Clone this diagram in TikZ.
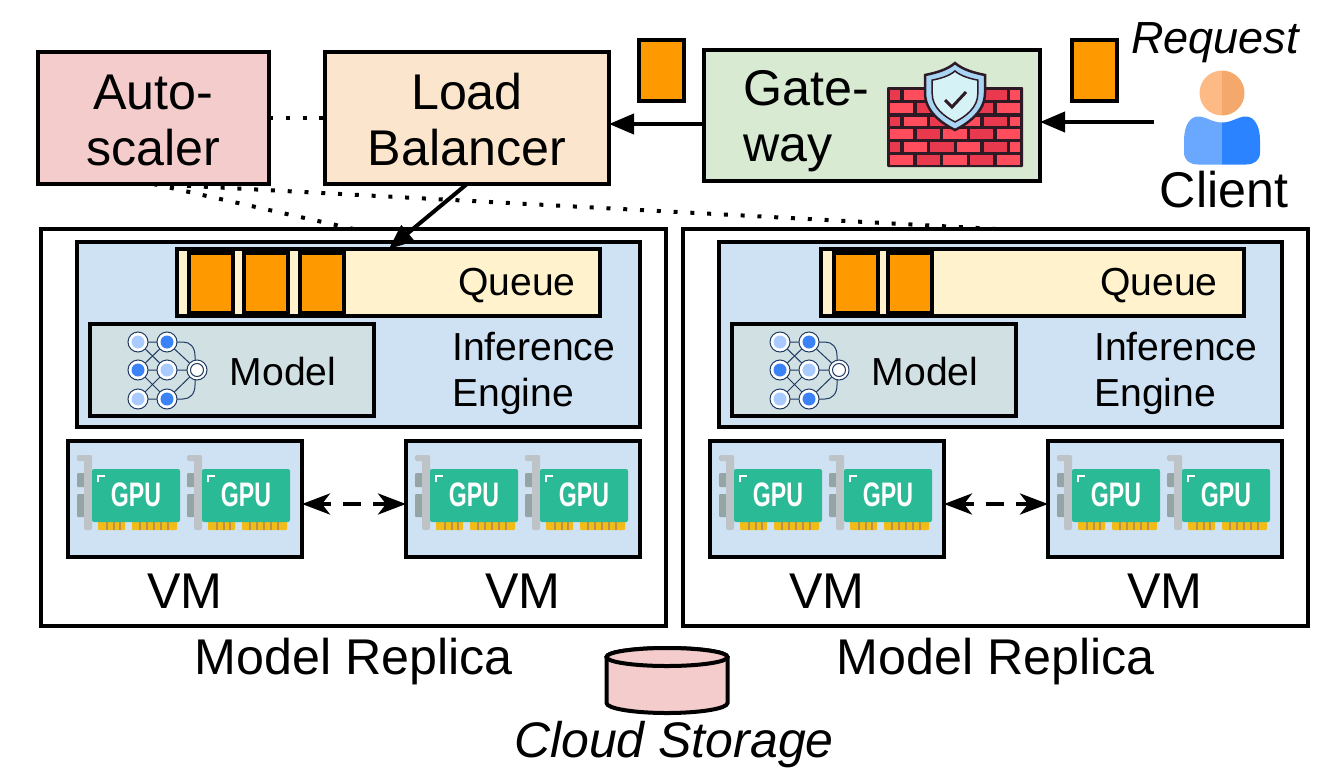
\documentclass[tikz,border=0pt]{standalone}
\usepackage{fontspec}
\setmainfont{Liberation Sans}
\usetikzlibrary{shapes.geometric, arrows.meta, positioning, calc}
\definecolor{scalerpink}{HTML}{F4CCCC}
\definecolor{balancerpeach}{HTML}{FCE5CD}
\definecolor{gatewaygreen}{HTML}{D9EAD3}
\definecolor{enginesky}{HTML}{CFE2F3}
\definecolor{queuecream}{HTML}{FFF2CC}
\definecolor{modelgray}{HTML}{D0E0E3}
\definecolor{requestorange}{HTML}{FF9900}
\definecolor{cardgreen}{HTML}{2ABB96}
\definecolor{contactgold}{HTML}{F2BC18}
\definecolor{contactdark}{HTML}{B8924A}
\definecolor{bracketgray}{HTML}{BDC3C7}
\definecolor{tabgray}{HTML}{95A5A6}
\definecolor{netnavy}{HTML}{1F3A63}
\definecolor{netlight}{HTML}{A9CBFF}
\definecolor{netblue}{HTML}{3B82F6}
\definecolor{brickdark}{HTML}{2E1A24}
\definecolor{bricklight}{HTML}{FF4D5E}
\definecolor{brickred}{HTML}{E8394F}
\definecolor{shieldrim}{HTML}{A9D5F5}
\definecolor{shieldpale}{HTML}{D5F3F7}
\definecolor{headlight}{HTML}{FDBA84}
\definecolor{headdark}{HTML}{F4A86C}
\definecolor{bodylight}{HTML}{6AA8FF}
\definecolor{bodydark}{HTML}{2B83FF}
\newcommand{\shieldoutline}{(0,0) .. controls (8,7) and (20,10) .. (30,12) -- (30,30) .. controls (30,48) and (14,60) .. (0,67) .. controls (-14,60) and (-30,48) .. (-30,30) -- (-30,12) .. controls (-20,10) and (-8,7) .. (0,0) -- cycle}
\newcommand{\bodyoutline}{(0,6) .. controls (-10,6) and (-16,0) .. (-24,0) .. controls (-32,0) and (-38,9) .. (-38,24) -- (-38,36) .. controls (-38,44) and (-32,48) .. (-24,48) -- (0,48) -- cycle}

\begin{document}
\begin{tikzpicture}[
    x=1pt, y=-1pt,
    box/.style={rectangle, draw=black, line width=4pt, inner sep=0pt, outer sep=0pt},
    bigtext/.style={inner sep=0pt, font=\fontsize{50.2}{56}\selectfont},
    midtext/.style={inner sep=0pt, font=\fontsize{39.1}{46}\selectfont},
    requestbox/.style={box, fill=requestorange, minimum width=45pt, minimum height=61pt},
    queueitem/.style={box, fill=requestorange, minimum width=44pt, minimum height=60pt},
    enginebox/.style={box, fill=enginesky, minimum width=563pt, minimum height=185pt},
    queuebox/.style={box, fill=queuecream, minimum width=423pt, minimum height=67pt},
    modelbox/.style={box, fill=modelgray, minimum width=284pt, minimum height=92pt},
    vmbox/.style={box, fill=enginesky, minimum width=234pt, minimum height=116pt},
    replicabox/.style={box, minimum width=625pt, minimum height=397pt},
    arrow/.style={-{Triangle[length=25pt,width=20pt]}, line width=4pt},
    dotline/.style={line width=4pt, dash pattern=on 4pt off 12.8pt},
    syncline/.style={{Stealth[length=28pt,width=21pt,inset=8pt]}-{Stealth[length=28pt,width=21pt,inset=8pt]}, line width=4pt, dash pattern=on 18pt off 12pt, dash phase=7pt},
    neuron/.style={circle, draw=netnavy, fill=white, line width=1pt, minimum size=20pt, inner sep=0pt},
    gpucard/.pic={
        \fill[tabgray, rounded corners=1pt] (0,32) rectangle (8,46);
        \fill[tabgray, rounded corners=1pt] (0,53) rectangle (8,76);
        \fill[bracketgray, rounded corners=2pt] (0,14) rectangle (15,20);
        \fill[bracketgray, rounded corners=2pt] (7,14) rectangle (15,89);
        \fill[contactgold, rounded corners=1pt] (21,78) rectangle (48,89);
        \fill[contactgold, rounded corners=1pt] (55,78) rectangle (100,89);
        \foreach \cx in {29,36,42,62,69,76,83,90}
            \fill[contactdark] (\cx,81) rectangle (\cx+2,89);
        \fill[cardgreen, rounded corners=2pt] (15,28) rectangle (103,81);
        \draw[white, line width=2.2pt] (21,41) -- (21,35) -- (28,35);
        \node[inner sep=0pt, text=white, font=\fontsize{34}{34}\selectfont\bfseries, transform shape, xscale=0.68] (-name) at (59,54) {GPU};
    },
    netfigure/.pic={
        \draw[netnavy, line width=1pt] (0,0) -- (29,28) (0,28) -- (29,0) (0,28) -- (29,57) (0,57) -- (29,28) (0,0) -- (29,0) (0,28) -- (29,28) (0,57) -- (29,57) (29,0) -- (59,28) (29,28) -- (59,28) (29,57) -- (59,28);
        \draw[netnavy, line width=1pt] (29,0) -- (45,0) .. controls (52,0) and (57,5) .. (57,14) -- (57,43) .. controls (57,52) and (52,57) .. (45,57) -- (29,57);
        \node[neuron] (-a) at (0,0) {};
        \node[neuron] (-b) at (0,28) {};
        \node[neuron] (-c) at (0,57) {};
        \node[neuron] (-d) at (29,0) {};
        \node[neuron] (-e) at (29,28) {};
        \node[neuron] (-f) at (29,57) {};
        \node[neuron] (-g) at (59,28) {};
        \fill[netlight] (0,0) circle (6.5) (0,57) circle (6.5) (29,28) circle (6.5);
        \fill[netblue] (0,28) circle (6.5) (29,0) circle (6.5) (29,57) circle (6.5);
        \draw[netnavy, line width=1pt] (59,28) circle (6.5);
    },
    brickwall/.pic={
        \fill[brickdark, rounded corners=1pt] (0,0) rectangle (136,80);
        \foreach \rowy in {3,29.5,55} {
            \fill[brickred] (3,\rowy) rectangle (13,\rowy+9.5);
            \fill[bricklight] (17,\rowy) rectangle (40,\rowy+9.5);
            \fill[brickred] (43,\rowy) rectangle (67,\rowy+9.5);
            \fill[bricklight] (70,\rowy) rectangle (93,\rowy+9.5);
            \fill[brickred] (97,\rowy) rectangle (120,\rowy+9.5);
            \fill[bricklight] (123,\rowy) rectangle (133,\rowy+9.5);
        }
        \foreach \rowy in {16,42,68} {
            \fill[bricklight] (3,\rowy) rectangle (26,\rowy+9.5);
            \fill[brickred] (30,\rowy) rectangle (53,\rowy+9.5);
            \fill[bricklight] (56,\rowy) rectangle (80,\rowy+9.5);
            \fill[brickred] (83,\rowy) rectangle (106,\rowy+9.5);
            \fill[bricklight] (110,\rowy) rectangle (133,\rowy+9.5);
        }
    },
    shieldicon/.pic={
        \draw[brickdark, line width=2.5pt, fill=shieldrim] \shieldoutline;
        \begin{scope}[shift={(0,8)}, scale=0.76]
            \draw[brickdark, line width=1.5pt, fill=shieldpale] \shieldoutline;
        \end{scope}
        \draw[brickdark, line width=3pt] (-10,37) -- (-3,44) -- (11,29);
    },
    clienticon/.pic={
        \fill[headlight] (0,45) arc[start angle=90, end angle=270, radius=22.5];
        \fill[headdark] (0,0) arc[start angle=270, end angle=450, radius=22.5];
        \begin{scope}[shift={(0,46)}]
            \fill[bodylight] \bodyoutline;
            \begin{scope}[xscale=-1]
                \fill[bodydark] \bodyoutline;
            \end{scope}
        \end{scope}
    },
    storageicon/.pic={
        \draw[line width=4pt, fill=scalerpink] (-60.5,0) -- (-60.5,46) arc[x radius=60.5, y radius=10, start angle=180, end angle=0] -- (60.5,0) arc[x radius=60.5, y radius=9, start angle=0, end angle=-180] -- cycle;
        \draw[line width=4pt, fill=scalerpink] (0,0) ellipse [x radius=60.5, y radius=9];
    }
]
\useasboundingbox (0,0) rectangle (1329,779);

% Top row
\node[box, fill=scalerpink, minimum width=231pt, minimum height=132pt] (autoscaler) at (153.5,118) {};
\node[bigtext, align=center] (autoscalertext) at (153.5,120) {Auto-\\scaler};
\node[box, fill=balancerpeach, minimum width=284pt, minimum height=132pt] (balancer) at (467,118) {};
\node[bigtext, align=center] (balancertext) at (467,120) {Load\\Balancer};
\node[box, fill=gatewaygreen, minimum width=336pt, minimum height=131pt] (gateway) at (872,115.5) {};
\node[bigtext, align=left, anchor=west] (gatewaytext) at (743,121) {Gate-\\way};
\pic (wall) at (887,87) {brickwall};
\pic (shield) at (955,63) {shieldicon};

% Requests and client
\node[requestbox] (request1) at (661.5,70.5) {};
\node[requestbox] (request2) at (1094.5,70.5) {};
\node[inner sep=0pt, font=\fontsize{45}{50}\selectfont\itshape] (requesttext) at (1215,43) {Request};
\pic (client) at (1222,70.5) {clienticon};
\coordinate (clientport) at (1154,122);
\node[bigtext] (clienttext) at (1224,190) {Client};

% Left replica
\node[replicabox] (replicaL) at (353.5,427.5) {};
\node[enginebox] (engineL) at (358.5,334.5) {};
\node[queuebox] (queueL) at (388.75,282.5) {};
\node[queueitem] (itemL1) at (211,282.5) {};
\node[queueitem] (itemL2) at (265.5,282.5) {};
\node[queueitem] (itemL3) at (322,282.5) {};
\node[midtext] (queuetextL) at (517,286) {Queue};
\node[modelbox] (modelL) at (232,370) {};
\pic (netL) at (138,342) {netfigure};
\node[midtext] (modeltextL) at (283,372) {Model};
\node[midtext, align=left, anchor=west] (enginetextL) at (452,373) {Inference\\Engine};
\node[vmbox] (vmL1) at (185,499) {};
\node[vmbox] (vmL2) at (523,499) {};
\pic (gpuL1) at (77,441) {gpucard};
\pic (gpuL2) at (187,441) {gpucard};
\pic (gpuL3) at (415,441) {gpucard};
\pic (gpuL4) at (525,441) {gpucard};
\node[bigtext] (vmtextL1) at (185,591) {VM};
\node[bigtext] (vmtextL2) at (523,591) {VM};
\node[bigtext] (replicatextL) at (353.5,662) {Model Replica};

% Right replica
\node[replicabox] (replicaR) at (995.5,427.5) {};
\node[enginebox] (engineR) at (1000.5,334.5) {};
\node[queuebox] (queueR) at (1032.75,282.5) {};
\node[queueitem] (itemR1) at (856,282.5) {};
\node[queueitem] (itemR2) at (910,282.5) {};
\node[midtext] (queuetextR) at (1159,286) {Queue};
\node[modelbox] (modelR) at (874,370) {};
\pic (netR) at (780,342) {netfigure};
\node[midtext] (modeltextR) at (925,372) {Model};
\node[midtext, align=left, anchor=west] (enginetextR) at (1094,373) {Inference\\Engine};
\node[vmbox] (vmR1) at (827,499) {};
\node[vmbox] (vmR2) at (1165,499) {};
\pic (gpuR1) at (719,441) {gpucard};
\pic (gpuR2) at (829,441) {gpucard};
\pic (gpuR3) at (1057,441) {gpucard};
\pic (gpuR4) at (1167,441) {gpucard};
\node[bigtext] (vmtextR1) at (827,591) {VM};
\node[bigtext] (vmtextR2) at (1165,591) {VM};
\node[bigtext] (replicatextR) at (995.5,662) {Model Replica};

% Storage
\pic (storage) at (667,657) {storageicon};
\node[inner sep=0pt, font=\fontsize{50}{58}\selectfont\itshape] (storagetext) at (674,745) {Cloud Storage};

% Arrows: request path
\draw[arrow] (clientport) -- (clientport -| gateway.east);
\draw[arrow] (gateway.west |- 0,124) -- (balancer.east |- 0,124);
\draw[arrow] (balancer.south) -- (queueL.north);

% Arrows: scaling control
\draw[dotline] (autoscaler.east) -- (balancer.west);
\draw[dotline] (autoscaler.south) -- (replicaL.north);
\draw[dotline] (autoscaler.south) -- (replicaR.north);

% Arrows: between VMs
\draw[syncline] ([yshift=-5pt]vmL1.east) -- ([yshift=-5pt]vmL2.west);
\draw[syncline] ([yshift=-5pt]vmR1.east) -- ([yshift=-5pt]vmR2.west);

\end{tikzpicture}
\end{document}
